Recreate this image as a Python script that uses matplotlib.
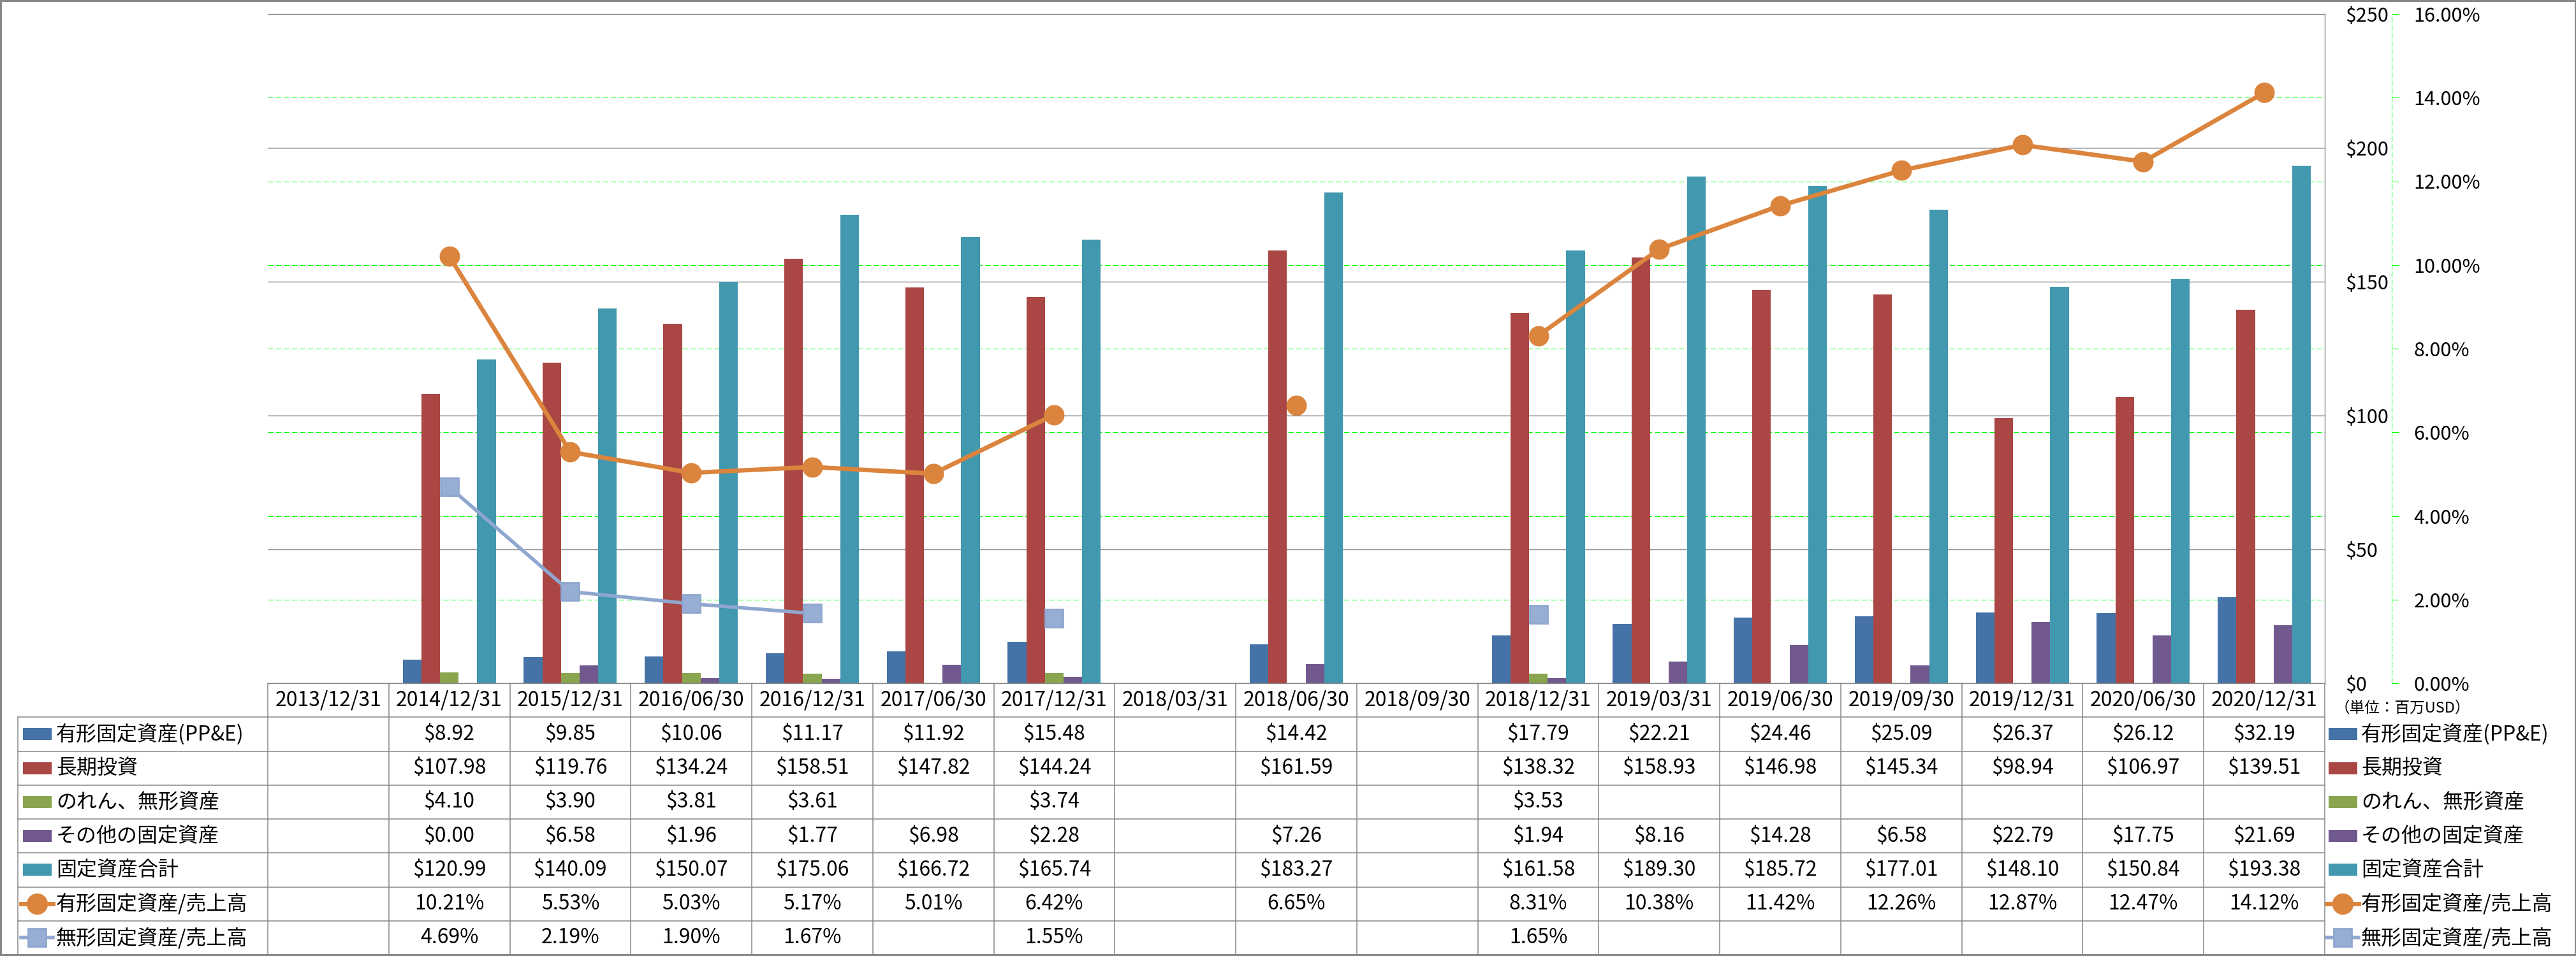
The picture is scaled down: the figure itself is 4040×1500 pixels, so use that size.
import numpy as np
import matplotlib
matplotlib.use("Agg")
import matplotlib.pyplot as plt
from matplotlib import transforms
from matplotlib.patches import Rectangle
from matplotlib.lines import Line2D

plt.rcParams['font.family'] = ['Noto Sans CJK JP', 'DejaVu Sans']

nan = np.nan

dates = ['2013/12/31', '2014/12/31', '2015/12/31', '2016/06/30', '2016/12/31',
         '2017/06/30', '2017/12/31', '2018/03/31', '2018/06/30', '2018/09/30',
         '2018/12/31', '2019/03/31', '2019/06/30', '2019/09/30', '2019/12/31',
         '2020/06/30', '2020/12/31']

ppe = [nan, 8.92, 9.85, 10.06, 11.17, 11.92, 15.48, nan, 14.42, nan,
       17.79, 22.21, 24.46, 25.09, 26.37, 26.12, 32.19]
long_inv = [nan, 107.98, 119.76, 134.24, 158.51, 147.82, 144.24, nan, 161.59, nan,
            138.32, 158.93, 146.98, 145.34, 98.94, 106.97, 139.51]
goodwill = [nan, 4.10, 3.90, 3.81, 3.61, nan, 3.74, nan, nan, nan,
            3.53, nan, nan, nan, nan, nan, nan]
other = [nan, 0.00, 6.58, 1.96, 1.77, 6.98, 2.28, nan, 7.26, nan,
         1.94, 8.16, 14.28, 6.58, 22.79, 17.75, 21.69]
total = [nan, 120.99, 140.09, 150.07, 175.06, 166.72, 165.74, nan, 183.27, nan,
         161.58, 189.30, 185.72, 177.01, 148.10, 150.84, 193.38]
ppe_ratio = [nan, 10.21, 5.53, 5.03, 5.17, 5.01, 6.42, nan, 6.65, nan,
             8.31, 10.38, 11.42, 12.26, 12.87, 12.47, 14.12]
intang_ratio = [nan, 4.69, 2.19, 1.90, 1.67, nan, 1.55, nan, nan, nan,
                1.65, nan, nan, nan, nan, nan, nan]

bar_names = ['有形固定資産(PP&E)', '長期投資', 'のれん、無形資産', 'その他の固定資産', '固定資産合計']
line_names = ['有形固定資産/売上高', '無形固定資産/売上高']
unit_label = '（単位：百万USD）'

bar_colors = ['#4572A7', '#AA4643', '#89A54E', '#71588F', '#4198AF']
line_colors = ['#DB843D', '#8FA7CF']

# figure / layout in pixels
W, H = 4041, 1500
L, R, T, B = 420, 3646, 22, 1072
ROW_H = 53.25
GRAY = '#878787'
GREEN = '#00ff00'
FS = 23

fig = plt.figure(figsize=(W / 100, H / 100), dpi=100)
rect = [L / W, 1 - B / H, (R - L) / W, (B - T) / H]
ax_g = fig.add_axes(rect)   # % axis + green grid (behind everything)
ax = fig.add_axes(rect)     # bars, $ axis
ax_l = fig.add_axes(rect)   # ratio lines on top
ax.patch.set_visible(False)
ax_l.patch.set_visible(False)

n = len(dates)
x = np.arange(n)
for a in (ax_g, ax, ax_l):
    a.set_xlim(-0.5, n - 0.5)
    a.set_xticks([])
    for s in a.spines.values():
        s.set_visible(False)

# percent axis
ax_g.set_ylim(0, 16)
ax_g.set_yticks(np.arange(0, 17, 2))
ax_g.set_yticklabels(['%.2f%%' % v for v in np.arange(0, 17, 2)])
ax_g.yaxis.tick_right()
ax_g.tick_params(axis='y', length=8, width=0.75, color=GREEN, pad=17, labelsize=22)
ax_g.spines['right'].set_visible(True)
ax_g.spines['right'].set_position(('outward', 75.6))
ax_g.spines['right'].set_color(GREEN)
ax_g.spines['right'].set_linewidth(0.75)
ax_g.spines['right'].set_linestyle((0, (8, 4)))
ax_g.yaxis.grid(True, color=GREEN, lw=0.75, ls=(0, (8, 4)))

# dollar axis + bars
ax.set_ylim(0, 250)
ax.set_yticks(np.arange(0, 251, 50))
ax.set_yticklabels(['$%d' % v for v in np.arange(0, 251, 50)])
ax.yaxis.tick_right()
ax.tick_params(axis='y', length=0, pad=23, labelsize=22)
ax.set_axisbelow(True)
ax.yaxis.grid(True, color=GRAY, lw=1.0)
for side in ('right', 'bottom', 'top'):
    ax.spines[side].set_visible(True)
    ax.spines[side].set_color(GRAY)
    ax.spines[side].set_linewidth(1.0)

bw = 1 / 6.5
for k, (vals, col) in enumerate(zip([ppe, long_inv, goodwill, other, total], bar_colors)):
    ax.bar(x + (k - 2) * bw, np.nan_to_num(vals, nan=0.0), width=bw, color=col, lw=0)

# ratio lines
ax_l.set_ylim(0, 16)
ax_l.set_yticks([])
ax_l.plot(x, ppe_ratio, color=line_colors[0], lw=5, marker='o', ms=22,
          mfc=line_colors[0], mec=line_colors[0], clip_on=False)
ax_l.plot(x, intang_ratio, color=line_colors[1], lw=4, marker='s', ms=20,
          mfc='#97ADD4', mec=line_colors[1], mew=2, clip_on=False)

# data table under the plot
col_tf = transforms.blended_transform_factory(ax.transData, fig.transFigure)
fy = lambda ypx: 1 - ypx / H
fx = lambda xpx: xpx / W
row_edges = [B + k * ROW_H for k in range(9)]

for k in range(1, 9):
    fig.add_artist(Line2D([fx(28), fx(R)], [fy(row_edges[k])] * 2,
                          transform=fig.transFigure, color=GRAY, lw=1.1))
fig.add_artist(Line2D([fx(28)] * 2, [fy(row_edges[1]), fy(row_edges[8])],
                      transform=fig.transFigure, color=GRAY, lw=1.1))
for i in range(n + 1):
    fig.add_artist(Line2D([i - 0.5] * 2, [fy(row_edges[0]), fy(row_edges[8])],
                          transform=col_tf, color=GRAY, lw=1.1))

def yc(r):
    return fy((row_edges[r] + row_edges[r + 1]) / 2)

for i, d in enumerate(dates):
    fig.text(i, yc(0), d, transform=col_tf, ha='center', va='center', fontsize=FS)

table_rows = [(ppe, '$%.2f'), (long_inv, '$%.2f'), (goodwill, '$%.2f'),
              (other, '$%.2f'), (total, '$%.2f'),
              (ppe_ratio, '%.2f%%'), (intang_ratio, '%.2f%%')]
for r, (vals, fmt) in enumerate(table_rows):
    for i, v in enumerate(vals):
        if not np.isnan(v):
            fig.text(i, yc(r + 1), fmt % v, transform=col_tf,
                     ha='center', va='center', fontsize=FS)

# legend keys (left in table, right beside table)
def legend_entry(kx, tx, r, name, color, marker=None):
    y = yc(r)
    if marker is None:
        fig.add_artist(Rectangle((fx(kx), y - 9.5 / H), 45 / W, 19 / H,
                                 transform=fig.transFigure, color=color, lw=0))
    else:
        fig.add_artist(Line2D([fx(kx - 3), fx(kx + 47)], [y, y], transform=fig.transFigure,
                              color=color, lw=5 if marker == 'o' else 4))
        fig.add_artist(Line2D([fx(kx + 22)], [y], transform=fig.transFigure,
                              marker=marker, ms=22 if marker == 'o' else 20,
                              mfc=color if marker == 'o' else '#97ADD4', mec=color,
                              mew=2, lw=0))
    fig.text(fx(tx), y, name, ha='left', va='center', fontsize=FS)

for kx, tx in ((36, 88), (3652, 3703)):
    for r, (name, col) in enumerate(zip(bar_names, bar_colors)):
        legend_entry(kx, tx, r + 1, name, col)
    legend_entry(kx, tx, 6, line_names[0], line_colors[0], 'o')
    legend_entry(kx, tx, 7, line_names[1], line_colors[1], 's')

fig.text(fx(3662), fy(1111), unit_label, ha='left', va='center', fontsize=17)

fig.add_artist(Rectangle((0, 0), 1, 1, transform=fig.transFigure, fill=False,
                         ec=GRAY, lw=4.3))

fig.savefig('out.png', dpi=100)
